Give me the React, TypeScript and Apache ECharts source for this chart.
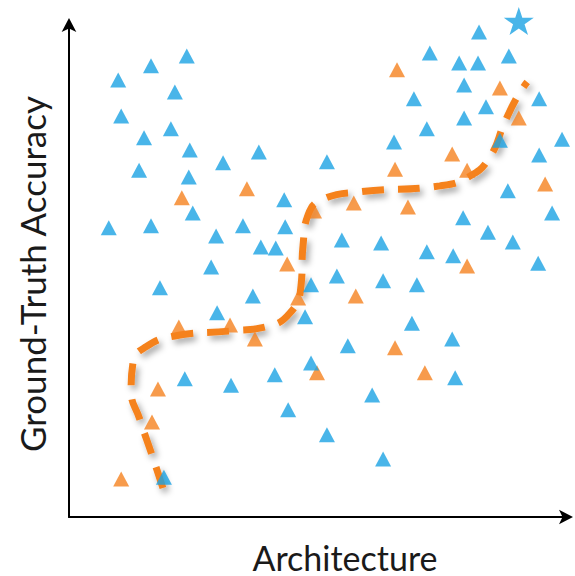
import React, { useEffect, useRef } from "react";
import * as echarts from "echarts";

const BLUE = "#1BA3E3";
const ORANGE = "#F5821F";

const xAxisTitle = "Architecture";
const yAxisTitle = "Ground-Truth Accuracy";

const bluePoints: [number, number][] = [
  [23.7, 93.7], [16.5, 91.7], [9.9, 88.8], [21.3, 86.4], [10.5, 81.5],
  [20.5, 78.9], [15.1, 77.1], [24.3, 74.6], [38.2, 74.2], [31.0, 72.0],
  [51.9, 72.2], [14.1, 70.5], [24.1, 69.1], [43.3, 64.5], [24.9, 61.8],
  [8.0, 58.8], [16.5, 59.2], [35.0, 59.2], [43.5, 59.0], [29.6, 57.1],
  [38.6, 54.9], [41.6, 54.7], [82.5, 98.6], [72.6, 94.3], [78.5, 92.3],
  [82.3, 92.3], [88.5, 93.7], [79.5, 87.8], [69.4, 85.0], [83.9, 83.4],
  [94.6, 85.0], [79.5, 81.1], [72.0, 78.9], [86.7, 76.6], [65.4, 76.2],
  [99.2, 76.8], [94.6, 73.6], [88.3, 66.3], [79.3, 60.8], [97.2, 61.8],
  [84.3, 57.9], [54.9, 56.3], [62.8, 55.7], [89.3, 55.9], [72.0, 53.9],
  [77.3, 53.1], [94.4, 51.6], [53.9, 49.0], [63.2, 48.0], [70.0, 47.2],
  [69.0, 39.4], [56.1, 34.8], [77.1, 36.2], [77.7, 28.3], [61.0, 24.8],
  [51.9, 16.7], [63.2, 11.8], [28.6, 50.8], [18.3, 46.6], [37.0, 44.9],
  [48.7, 47.2], [29.8, 41.5], [47.5, 40.7], [48.7, 31.3], [23.3, 28.1],
  [32.6, 26.8], [41.4, 28.9], [44.1, 21.8], [19.1, 8.1],
];

const orangePoints: [number, number][] = [
  [35.8, 66.7], [22.7, 64.9], [66.0, 90.9], [86.7, 87.2], [90.5, 81.1],
  [77.1, 73.8], [65.6, 70.7], [80.1, 70.5], [95.8, 67.7], [57.3, 63.8],
  [68.2, 63.0], [80.1, 51.0], [57.7, 44.9], [65.6, 34.4], [49.9, 29.3],
  [71.6, 29.3], [43.9, 51.4], [32.4, 39.0], [22.1, 38.6], [37.4, 36.2],
  [46.1, 44.5], [49.3, 62.2], [17.9, 26.0], [16.7, 19.3], [10.5, 7.7],
];

const bestPoint: [number, number][] = [[90.5, 100.8]];

const frontierCurve: [number, number][] = [
  [18.9, 5.9], [16.7, 12.6], [14.3, 19.7], [12.5, 25.8], [12.9, 31.5],
  [15.5, 34.6], [21.3, 36.8], [32.4, 37.8], [39.4, 38.6], [44.5, 41.5],
  [46.7, 47.2], [47.1, 55.3], [48.1, 61.4], [50.9, 64.5], [58.6, 66.1],
  [74.6, 67.3], [80.7, 69.3], [84.7, 73.2], [87.7, 80.3], [90.3, 85.6],
  [92.2, 88.4],
];

const STAR =
  "path://M50,0 L61.2,34.5 L97.6,34.5 L68.2,55.9 L79.4,90.5 L50,69.1 L20.6,90.5 L31.8,55.9 L2.4,34.5 L38.8,34.5 Z";

export default function App() {
  const ref = useRef<HTMLDivElement>(null);
  useEffect(() => {
    if (!ref.current) return;
    const chart = echarts.init(ref.current, null, { renderer: "svg" });
    const font = "Lato, 'Open Sans', sans-serif";
    const axisLine = {
      show: true,
      symbol: ["none", "arrow"],
      symbolSize: [11, 14],
      symbolOffset: [0, 7],
      lineStyle: { color: "#000", width: 2 },
    };
    chart.setOption({
      animation: false,
      backgroundColor: "#ffffff",
      grid: { left: 69, right: 9, top: 25, bottom: 59 },
      xAxis: {
        type: "value",
        min: 0,
        max: 100,
        axisLine,
        axisTick: { show: false },
        axisLabel: { show: false },
        splitLine: { show: false },
      },
      yAxis: {
        type: "value",
        min: 0,
        max: 100,
        axisLine,
        axisTick: { show: false },
        axisLabel: { show: false },
        splitLine: { show: false },
      },
      graphic: [
        {
          type: "text",
          x: 345,
          y: 557,
          style: {
            text: xAxisTitle,
            font: `34px ${font}`,
            fill: "#1a1a1a",
            textAlign: "center",
            textVerticalAlign: "middle",
          },
        },
        {
          type: "text",
          x: 32,
          y: 274,
          rotation: Math.PI / 2,
          style: {
            text: yAxisTitle,
            font: `35px ${font}`,
            fill: "#1a1a1a",
            textAlign: "center",
            textVerticalAlign: "middle",
          },
        },
      ],
      series: [
        {
          type: "line",
          data: frontierCurve,
          smooth: 0.5,
          showSymbol: false,
          symbol: "none",
          z: 1,
          lineStyle: {
            color: ORANGE,
            width: 7,
            type: [22, 14],
            cap: "butt",
            shadowColor: "rgba(0,0,0,0.35)",
            shadowBlur: 6,
            shadowOffsetX: 3,
            shadowOffsetY: 4,
          },
        },
        {
          type: "scatter",
          data: orangePoints,
          symbol: "triangle",
          symbolSize: [16, 15],
          itemStyle: { color: ORANGE },
          z: 2,
        },
        {
          type: "scatter",
          data: bluePoints,
          symbol: "triangle",
          symbolSize: [16, 15],
          itemStyle: { color: BLUE },
          z: 3,
        },
        {
          type: "scatter",
          data: bestPoint,
          symbol: STAR,
          symbolSize: [30, 28],
          clip: false,
          itemStyle: { color: BLUE },
          z: 3,
        },
      ],
    });
    return () => chart.dispose();
  }, []);
  return <div ref={ref} style={{ width: 575, height: 576, position: "absolute", left: 0, top: 0 }} />;
}
